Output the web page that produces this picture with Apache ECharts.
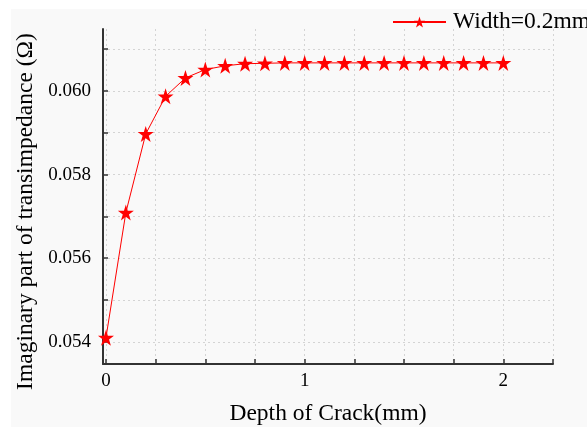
<!DOCTYPE html>
<html><head><meta charset="utf-8">
<script src="https://cdn.jsdelivr.net/npm/echarts@6/dist/echarts.min.js"></script>
<style>html,body{margin:0;padding:0;background:#fff}#c{width:587px;height:427px}</style>
</head><body><div id="c"></div>
<script>
const depth = [0,0.1,0.2,0.3,0.4,0.5,0.6,0.7,0.8,0.9,1.0,1.1,1.2,1.3,1.4,1.5,1.6,1.7,1.8,1.9,2.0];
const imagZ = [0.05410,0.05709,0.05897,0.05987,0.06031,0.06051,0.06060,0.06065,0.06066,0.06067,0.06067,0.06067,0.06067,0.06067,0.06067,0.06067,0.06067,0.06067,0.06067,0.06067,0.06067];
const xTicks = [0,0.25,0.5,0.75,1,1.25,1.5,1.75,2,2.25];
const xLabels = [0,1,2];
const yTicks = [0.054,0.055,0.056,0.057,0.058,0.059,0.060,0.061];
const yLabels = [0.054,0.056,0.058,0.060];
const seriesName = 'Width=0.2mm';

const font = 'Liberation Serif';
const chart = echarts.init(document.getElementById('c'));
chart.setOption({
  backgroundColor: '#ffffff',
  animation: false,
  graphic: [{type:'rect', left:11, top:9, shape:{width:576, height:418}, style:{fill:'#f9f9f9'}, z:-10}],
  grid: {left:103, top:29, right:34, bottom:63, containLabel:false, outerBoundsMode:'none'},
  legend: {
    data:[seriesName], left:392, top:10, padding:0, itemWidth:53, itemHeight:14, itemGap:6,
    textStyle:{fontFamily:font, fontSize:23.5, color:'#000', padding:[0,0,0,2]}
  },
  xAxis: {
    type:'value', min:-0.015, max:2.25,
    name:'Depth of Crack(mm)', nameLocation:'middle', nameGap:38,
    nameTextStyle:{fontFamily:font, fontSize:23.5, color:'#000'},
    axisLine:{onZero:false, lineStyle:{color:'#333', width:2}},
    axisTick:{inside:true, length:5, customValues:xTicks, lineStyle:{color:'#333', width:1.5}},
    axisLabel:{customValues:xLabels, fontFamily:font, fontSize:19, color:'#000', margin:8},
    splitLine:{show:true, customValues:xTicks, lineStyle:{color:'#d4d4d4', type:[2,3], width:1}}
  },
  yAxis: {
    type:'value', min:0.05347, max:0.06148,
    name:'Imaginary part of transimpedance (Ω)', nameLocation:'middle', nameGap:63,
    nameTextStyle:{fontFamily:font, fontSize:23.5, color:'#000', padding:[0,30,0,0]},
    axisLine:{onZero:false, lineStyle:{color:'#333', width:2}},
    axisTick:{inside:true, length:5, customValues:yTicks, lineStyle:{color:'#333', width:1.5}},
    axisLabel:{customValues:yLabels, fontFamily:font, fontSize:19, color:'#000', margin:12,
      formatter: v => v.toFixed(3)},
    splitLine:{show:true, customValues:yTicks, lineStyle:{color:'#d4d4d4', type:[2,3], width:1}}
  },
  series: [{
    name: seriesName, type:'line',
    data: depth.map((d,i)=>[d, imagZ[i]]),
    symbol:'path://M50,0 L61.8,35.3 L100,35.3 L69.1,57.1 L80.9,92.7 L50,70.9 L19.1,92.7 L30.9,57.1 L0,35.3 L38.2,35.3 Z',
    symbolSize:16,
    itemStyle:{color:'#ff0000'},
    lineStyle:{color:'#ff0000', width:1}
  }]
});
</script></body></html>
